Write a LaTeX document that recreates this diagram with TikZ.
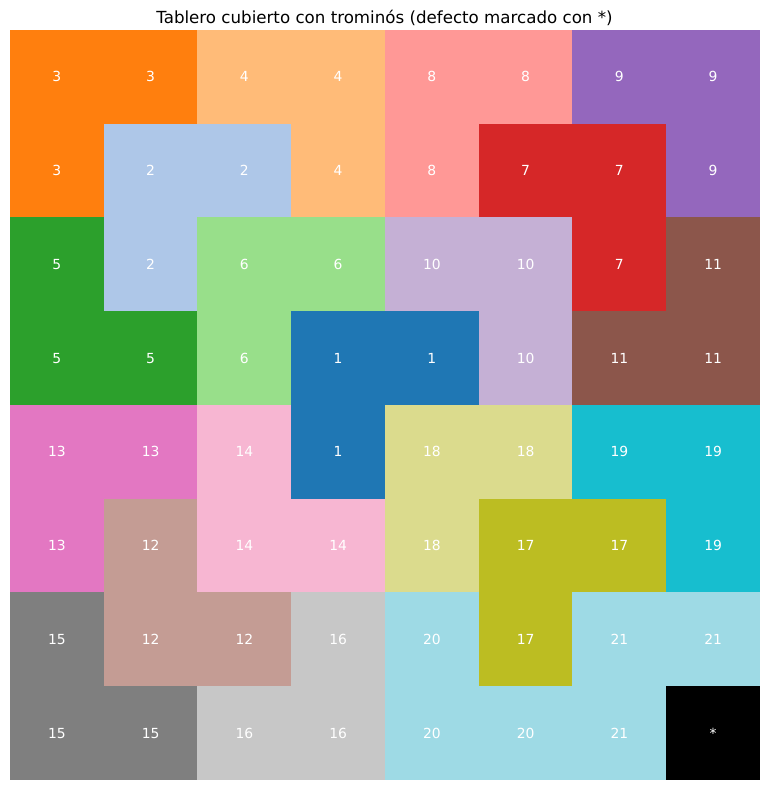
\documentclass[tikz,border=0pt]{standalone}
\usepackage{fontspec}
\setmainfont{DejaVu Sans}
\usepackage{xcolor}
\usepackage{tikz}
\usetikzlibrary{positioning}
\definecolor{piece1}{HTML}{1F77B4}
\definecolor{piece2}{HTML}{AEC7E8}
\definecolor{piece3}{HTML}{FF7F0E}
\definecolor{piece4}{HTML}{FFBB78}
\definecolor{piece5}{HTML}{2CA02C}
\definecolor{piece6}{HTML}{98DF8A}
\definecolor{piece7}{HTML}{D62728}
\definecolor{piece8}{HTML}{FF9896}
\definecolor{piece9}{HTML}{9467BD}
\definecolor{piece10}{HTML}{C5B0D5}
\definecolor{piece11}{HTML}{8C564B}
\definecolor{piece12}{HTML}{C49C94}
\definecolor{piece13}{HTML}{E377C2}
\definecolor{piece14}{HTML}{F7B6D2}
\definecolor{piece15}{HTML}{7F7F7F}
\definecolor{piece16}{HTML}{C7C7C7}
\definecolor{piece17}{HTML}{BCBD22}
\definecolor{piece18}{HTML}{DBDB8D}
\definecolor{piece19}{HTML}{17BECF}
\definecolor{piece20}{HTML}{9EDAE5}
\definecolor{piece21}{HTML}{9EDAE5}
\tikzset{
  cell/.style={rectangle, inner sep=0pt, minimum size=67.6pt,
    text=white, font=\fontsize{10}{12}\selectfont},
  title/.style={font=\fontsize{12}{14}\selectfont, text=black}
}

\begin{document}
\begin{tikzpicture}[x=0.72pt, y=-0.72pt]
  % Canvas
  \useasboundingbox[fill=white] (0,0) rectangle (769,790);

  % Title
  \node[title] (titulo) at (384.5,18) {Tablero cubierto con trominós (defecto marcado con *)};

  % Board cells (row by row)
  \foreach \k [count=\i from 0] in {3,3,4,4,8,8,9,9,
                                    3,2,2,4,8,7,7,9,
                                    5,2,6,6,10,10,7,11,
                                    5,5,6,1,1,10,11,11,
                                    13,13,14,1,18,18,19,19,
                                    13,12,14,14,18,17,17,19,
                                    15,12,12,16,20,17,21,21,
                                    15,15,16,16,20,20,21}{
    \pgfmathtruncatemacro{\r}{div(\i,8)}
    \pgfmathtruncatemacro{\c}{mod(\i,8)}
    \node[cell, fill=piece\k] (c-\r-\c) at ({10+93.75*(\c+0.5)},{30+93.75*(\r+0.5)}) {\k};
  }

  % Defect
  \node[cell, fill=black] (c-7-7) at ({10+93.75*7.5},{30+93.75*7.5}) {*};
\end{tikzpicture}
\end{document}
